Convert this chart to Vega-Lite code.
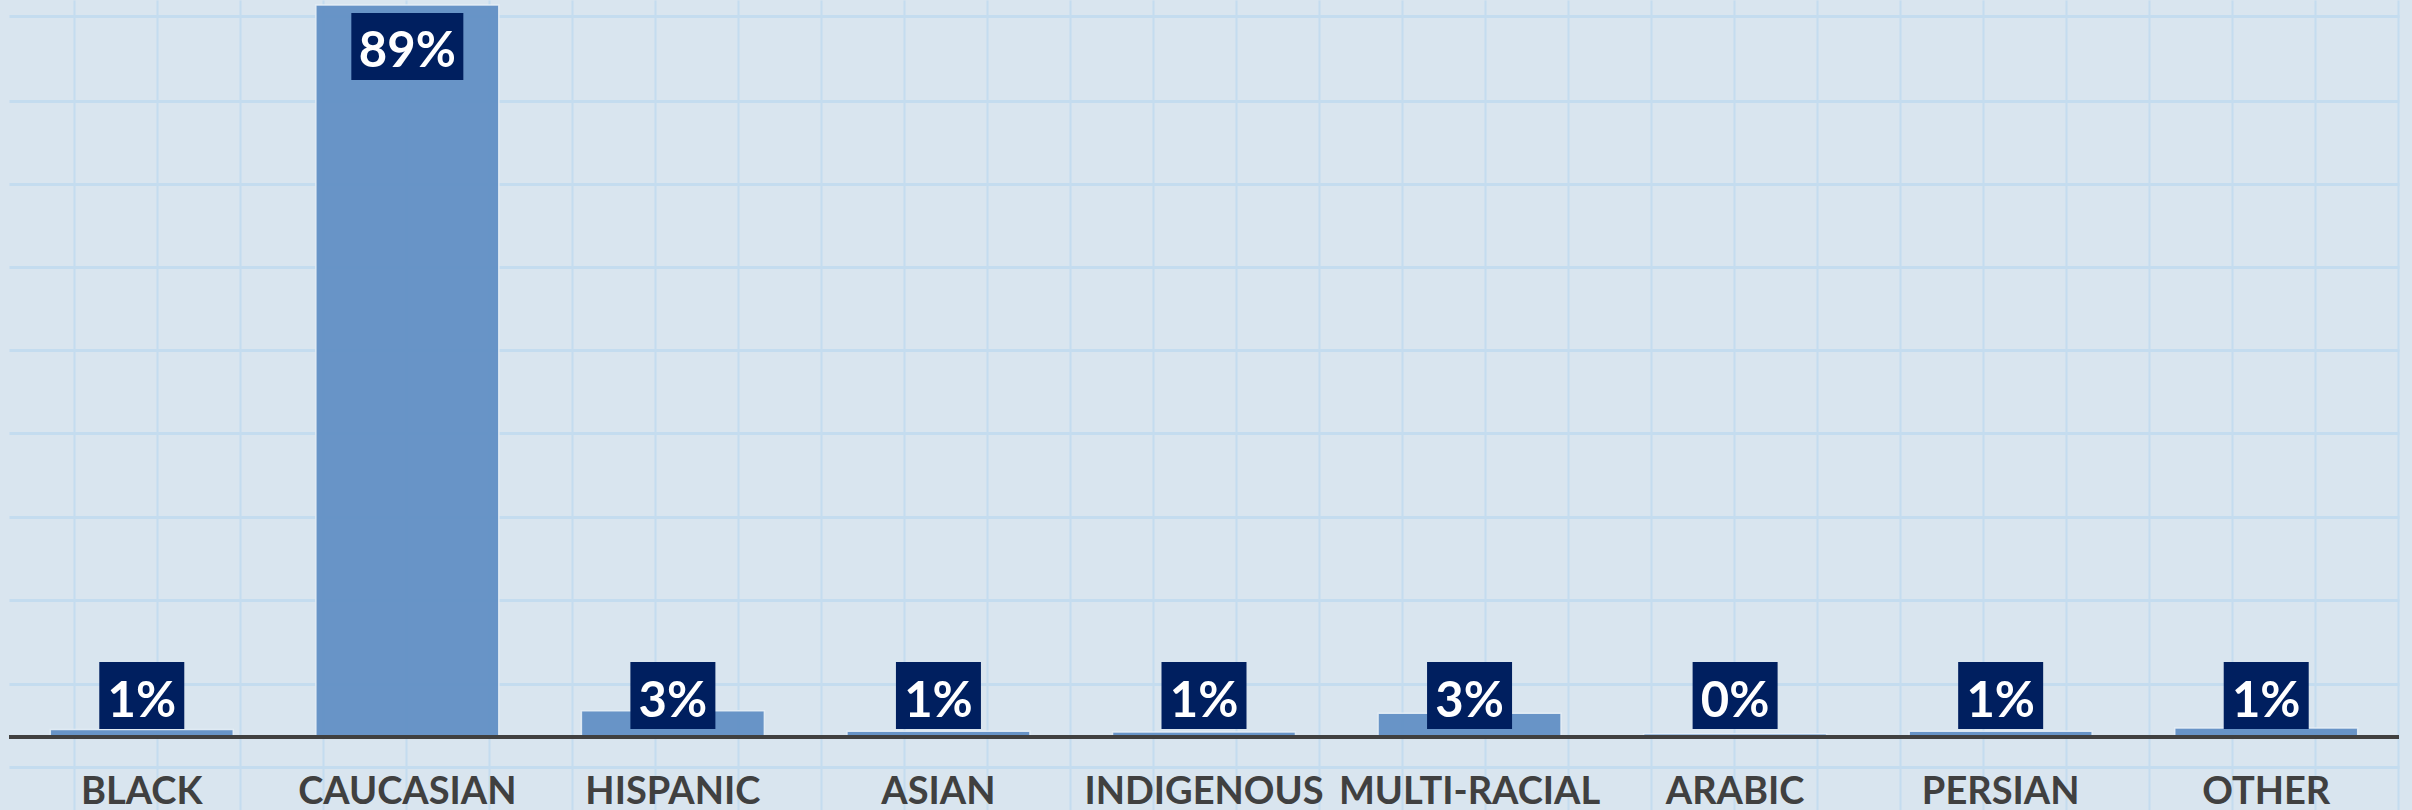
{
  "$schema": "https://vega.github.io/schema/vega-lite/v6.json",
  "width": 2390,
  "height": 810,
  "autosize": {"type": "none"},
  "padding": {"left": 9, "right": 13, "top": 0, "bottom": 0},
  "background": "#d9e5ef",
  "config": {
    "view": {"stroke": null},
    "axis": {"gridColor": "#c4dcef", "gridWidth": 2.5, "gridOpacity": 1}
  },
  "data": {
    "values": [
      {"group": "BLACK", "pct": 0.9, "label": "1%"},
      {"group": "CAUCASIAN", "pct": 89.0, "label": "89%"},
      {"group": "HISPANIC", "pct": 3.2, "label": "3%"},
      {"group": "ASIAN", "pct": 0.7, "label": "1%"},
      {"group": "INDIGENOUS", "pct": 0.6, "label": "1%"},
      {"group": "MULTI-RACIAL", "pct": 2.9, "label": "3%"},
      {"group": "ARABIC", "pct": 0.4, "label": "0%"},
      {"group": "PERSIAN", "pct": 0.7, "label": "1%"},
      {"group": "OTHER", "pct": 1.1, "label": "1%"}
    ]
  },
  "resolve": {"scale": {"x": "independent"}, "axis": {"x": "independent"}},
  "layer": [
    {
      "mark": {"type": "point", "opacity": 0},
      "encoding": {
        "x": {
          "datum": 0,
          "type": "quantitative",
          "scale": {"domain": [-0.783, 28.012], "nice": false, "zero": false},
          "axis": {
            "orient": "top",
            "grid": true,
            "values": [0,1,2,3,4,5,6,7,8,9,10,11,12,13,14,15,16,17,18,19,20,21,22,23,24,25,26,27,28],
            "labels": false,
            "ticks": false,
            "domain": false,
            "title": null,
            "gridWidth": 2
          }
        },
        "y": {
          "datum": 0,
          "type": "quantitative",
          "scale": {"domain": [-8.875, 89.6], "nice": false, "zero": false},
          "axis": {
            "grid": true,
            "values": [-3.68, 6.47, 16.62, 26.77, 36.92, 47.05, 57.1, 67.19, 77.36, 87.66],
            "labels": false,
            "ticks": false,
            "domain": false,
            "title": null,
            "gridWidth": 3
          }
        }
      }
    },
    {
      "encoding": {
        "x": {
          "field": "group",
          "type": "nominal",
          "sort": null,
          "scale": {"paddingInner": 0.311, "paddingOuter": 0.1555},
          "axis": {
            "orient": "bottom",
            "title": null,
            "domain": false,
            "ticks": false,
            "tickSize": 0,
            "grid": false,
            "labelAngle": 0,
            "labelBaseline": "alphabetic",
            "labelPadding": -7,
            "labelOverlap": false,
            "labelLimit": 500,
            "labelFont": "Lato",
            "labelFontWeight": "bold",
            "labelFontSize": 38,
            "labelColor": "#404040"
          }
        }
      },
      "layer": [
        {
          "mark": {"type": "bar", "color": "#6391c5", "fillOpacity": 0.96, "stroke": "#e6eef6", "strokeWidth": 1.5, "strokeOpacity": 0.9},
          "encoding": {
            "y": {"field": "pct", "type": "quantitative"},
            "y2": {"datum": 0}
          }
        },
        {
          "mark": {"type": "rule", "color": "#404040", "strokeWidth": 4},
          "encoding": {"x": null, "y": {"datum": 0, "type": "quantitative"}}
        },
        {
          "transform": [{"filter": "datum.pct < 50"}],
          "mark": {"type": "bar", "color": "#001f5f", "width": 85, "yOffset": -8, "y2Offset": -75},
          "encoding": {
            "y": {"datum": 0, "type": "quantitative"},
            "y2": {"datum": 0}
          }
        },
        {
          "transform": [{"filter": "datum.pct < 50"}],
          "mark": {"type": "text", "color": "#ffffff", "font": "Lato", "fontWeight": "bold", "fontSize": 49, "baseline": "alphabetic", "align": "center", "dy": -20},
          "encoding": {
            "y": {"datum": 0, "type": "quantitative"},
            "text": {"field": "label"}
          }
        },
        {
          "transform": [{"filter": "datum.pct >= 50"}],
          "mark": {"type": "bar", "color": "#001f5f", "width": 112, "yOffset": 8, "y2Offset": 75},
          "encoding": {
            "y": {"field": "pct", "type": "quantitative"},
            "y2": {"field": "pct"}
          }
        },
        {
          "transform": [{"filter": "datum.pct >= 50"}],
          "mark": {"type": "text", "color": "#ffffff", "font": "Lato", "fontWeight": "bold", "fontSize": 49, "baseline": "alphabetic", "align": "center", "dy": 62},
          "encoding": {
            "y": {"field": "pct", "type": "quantitative"},
            "text": {"field": "label"}
          }
        }
      ]
    }
  ]
}
